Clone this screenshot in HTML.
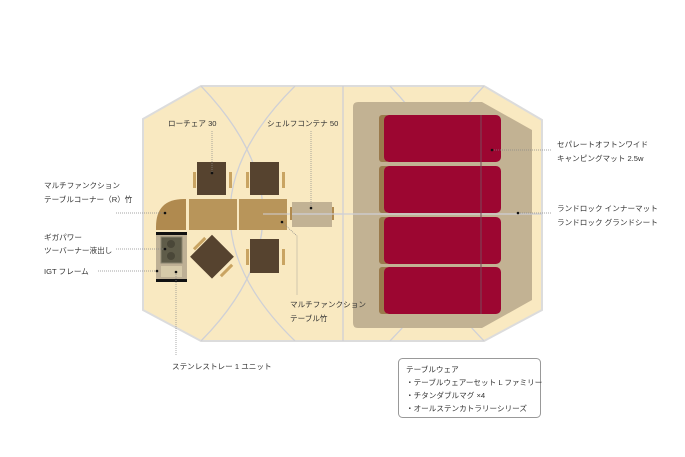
<!DOCTYPE html>
<html><head><meta charset="utf-8"><style>
body{margin:0;background:#fff;}
svg{display:block;}
text{font-family:"Liberation Sans","Noto Sans CJK JP",sans-serif;font-size:7.6px;fill:#333;}
</style></head><body>
<svg width="685" height="457" viewBox="0 0 685 457" xmlns="http://www.w3.org/2000/svg">
<defs><clipPath id="tent"><polygon points="201,86 484,86 542,120 542,310 484,341 201,341 143,310 143,119"/></clipPath></defs>
<polygon points="201,86 484,86 542,120 542,310 484,341 201,341 143,310 143,119" fill="#f9e9c1" stroke="#dcdcdc" stroke-width="2"/>
<g clip-path="url(#tent)" fill="none" stroke="#cfd0d6" stroke-width="1.3">
<path d="M201,86 Q325,215 201,341"/>
<path d="M295,86 Q165,215 295,341"/>
<path d="M390,86 Q514,215 390,341"/>
<path d="M484,86 Q360,215 484,341"/>
<line x1="343" y1="86" x2="343" y2="341"/>
</g>
<path d="M358,102 L482,102 L532,130 L532,300 L482,328 L358,328 Q353,328 353,323 L353,107 Q353,102 358,102Z" fill="#c2b293"/>
<line x1="263" y1="214" x2="542" y2="214" stroke="#cfd0d6" stroke-width="1.3"/>
<g>
<rect x="379" y="115" width="10" height="47" rx="3" fill="#9a7a4c"/>
<rect x="384" y="115" width="117" height="47" rx="5" fill="#9c0631"/>
<rect x="379" y="166" width="10" height="47" rx="3" fill="#9a7a4c"/>
<rect x="384" y="166" width="117" height="47" rx="5" fill="#9c0631"/>
<rect x="379" y="217" width="10" height="47" rx="3" fill="#9a7a4c"/>
<rect x="384" y="217" width="117" height="47" rx="5" fill="#9c0631"/>
<rect x="379" y="267" width="10" height="47" rx="3" fill="#9a7a4c"/>
<rect x="384" y="267" width="117" height="47" rx="5" fill="#9c0631"/>
<line x1="481" y1="115" x2="481" y2="314" stroke="#7a4a5c" stroke-width="1"/>
</g>
<g fill="#c9a462">
<rect x="193" y="172" width="3" height="16"/><rect x="229" y="172" width="3" height="16"/>
<rect x="246" y="172" width="3" height="16"/><rect x="282" y="172" width="3" height="16"/>
<rect x="246" y="249" width="3" height="16"/><rect x="282" y="249" width="3" height="16"/>
</g>
<g fill="#56432f">
<rect x="197" y="162" width="29" height="33"/>
<rect x="250" y="162" width="29" height="33"/>
<rect x="250" y="239" width="29" height="34"/>
<rect x="197" y="241" width="31" height="31" transform="rotate(45 212 256)"/>
</g>
<g fill="#c9a462" transform="rotate(45 212 256)">
<rect x="193" y="248" width="3" height="16"/><rect x="231" y="248" width="3" height="16"/>
</g>
<path d="M186,199 L186,230 L156,230 L156,227 Q156,199 184,199Z" fill="#b08a4f"/>
<rect x="189" y="199" width="48" height="31" fill="#b8955a"/>
<rect x="239" y="199" width="48" height="31" fill="#b8955a"/>
<line x1="263" y1="214" x2="287" y2="214" stroke="#cfd0d6" stroke-width="1"/>
<rect x="292" y="202" width="40" height="25" fill="#c2b294"/>
<rect x="290" y="207" width="2" height="13" fill="#b08a4f"/><rect x="332" y="207" width="2" height="13" fill="#b08a4f"/>
<line x1="292" y1="214" x2="343" y2="214" stroke="#cfd0d6" stroke-width="1.3"/>
<rect x="156" y="232" width="31" height="50" fill="#beb095"/>
<rect x="156" y="232" width="31" height="3" fill="#111"/>
<rect x="156" y="279" width="31" height="3" fill="#111"/>
<rect x="161" y="237" width="21" height="26" fill="#5f5c49" stroke="#8a8570" stroke-width="1"/>
<circle cx="171" cy="244" r="4" fill="#4a4738"/><circle cx="171" cy="256" r="4" fill="#4a4738"/>
<rect x="161" y="266" width="21" height="11" fill="#d6caa9"/>
<g stroke="#888" stroke-width="0.7" stroke-dasharray="1,1" fill="none">
<line x1="212" y1="131" x2="212" y2="172"/>
<line x1="311" y1="131" x2="311" y2="210"/>
<line x1="116" y1="213" x2="165" y2="213"/>
<line x1="116" y1="249" x2="165" y2="249"/>
<line x1="98" y1="271" x2="157" y2="271"/>
<line x1="176" y1="272" x2="176" y2="355"/>
<polyline points="282,222 297,236 297,295"/>
<line x1="492" y1="150" x2="552" y2="150"/>
<line x1="518" y1="213" x2="552" y2="213"/>
</g>
<g fill="#111">
<circle cx="212" cy="173" r="1.3"/><circle cx="311" cy="208" r="1.3"/><circle cx="165" cy="213" r="1.3"/>
<circle cx="165" cy="249" r="1.3"/><circle cx="157" cy="271" r="1.3"/><circle cx="176" cy="272" r="1.3"/>
<circle cx="282" cy="222" r="1.3"/><circle cx="492" cy="150" r="1.3"/><circle cx="518" cy="213" r="1.3"/>
</g>
<text x="168" y="126">ローチェア 30</text>
<text x="267" y="126">シェルフコンテナ 50</text>
<text x="44" y="188">マルチファンクション</text>
<text x="44" y="202">テーブルコーナー（R）竹</text>
<text x="44" y="240">ギガパワー</text>
<text x="44" y="253">ツーバーナー液出し</text>
<text x="44" y="274">IGT フレーム</text>
<text x="172" y="369">ステンレストレー 1 ユニット</text>
<text x="290" y="307">マルチファンクション</text>
<text x="290" y="321">テーブル竹</text>
<text x="557" y="147">セパレートオフトンワイド</text>
<text x="557" y="161">キャンピングマット 2.5w</text>
<text x="557" y="211">ランドロック インナーマット</text>
<text x="557" y="225">ランドロック グランドシート</text>
<rect x="398.5" y="358.5" width="142" height="59" rx="4" fill="#fff" stroke="#999" stroke-width="1"/>
<text x="406" y="372">テーブルウェア</text>
<text x="406" y="385">・テーブルウェアーセット L ファミリー</text>
<text x="406" y="398">・チタンダブルマグ ×4</text>
<text x="406" y="411">・オールステンカトラリーシリーズ</text>
</svg>
</body></html>
